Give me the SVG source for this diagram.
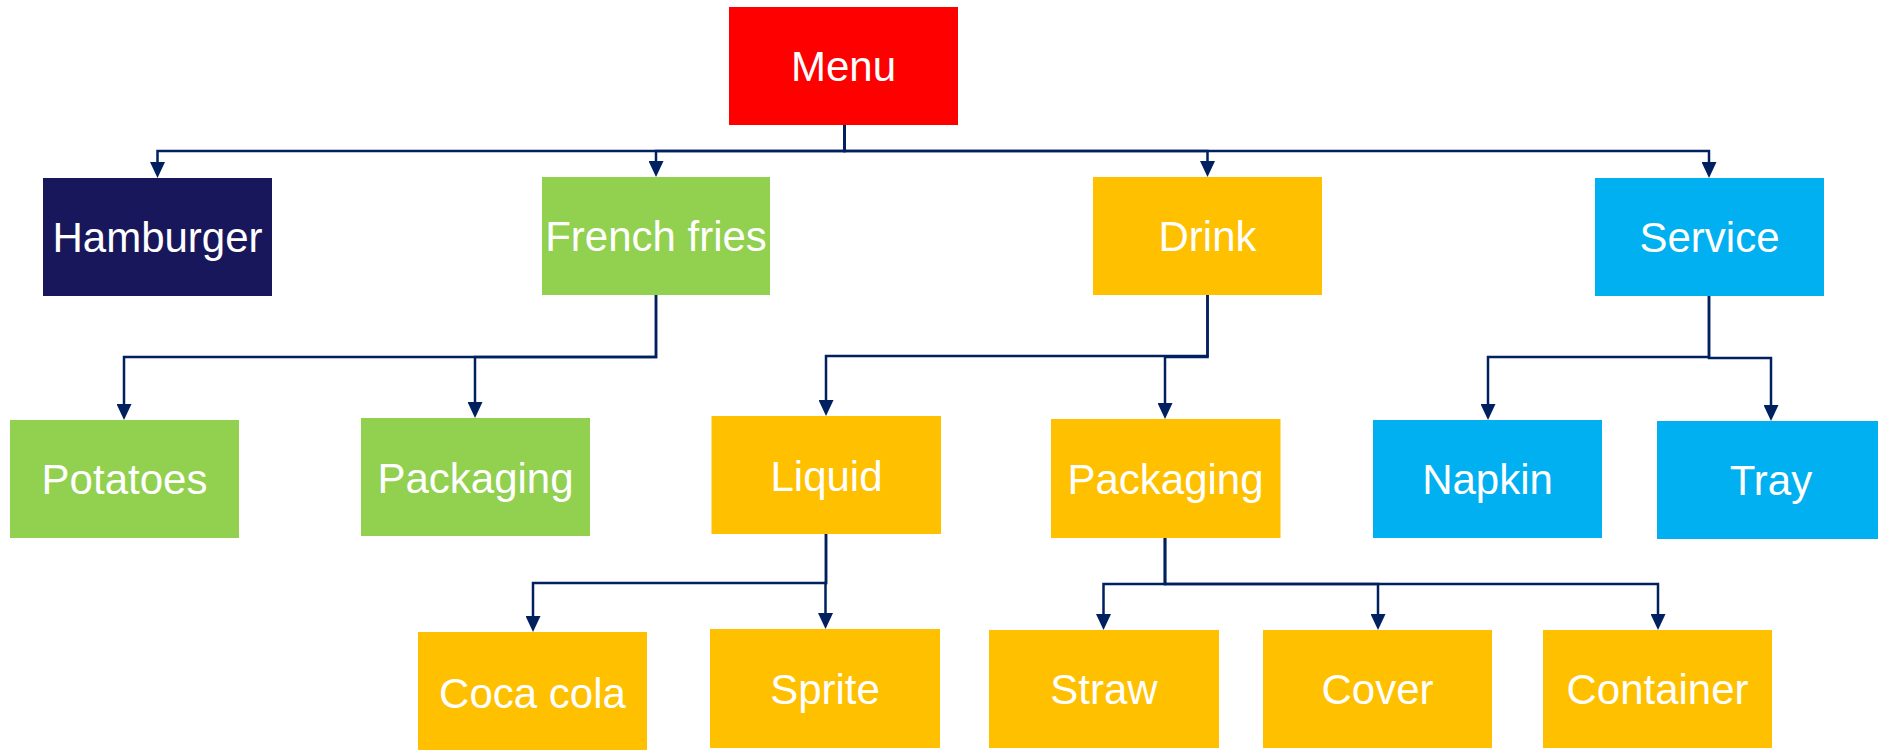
<svg xmlns="http://www.w3.org/2000/svg" width="1878" height="750" viewBox="0 0 1878 750">
  <style>
    .box text { font-family: "Liberation Sans", Arial, sans-serif; font-size: 42px; fill: #ffffff; text-anchor: middle; }
    .red { fill: #FF0000; }
    .navy { fill: #19175C; }
    .green { fill: #92D050; }
    .amber { fill: #FFC000; }
    .cyan { fill: #00B0F0; }
    .link { fill: none; stroke: #002060; stroke-width: 2.5; marker-end: url(#arrow); }
  </style>
  <defs>
    <marker id="arrow" markerUnits="userSpaceOnUse" viewBox="0 0 16 15" markerWidth="16" markerHeight="15" refX="2" refY="7.5" orient="auto">
      <path d="M0 0 L16 7.5 L0 15 Z" fill="#002060"/>
    </marker>
  </defs>

  <rect width="1878" height="750" fill="#ffffff"/>

  <!-- connectors -->
  <g id="connectors">
    <path class="link" d="M844.5 125 V151 H157.5 V164"/>
    <path class="link" d="M844.5 125 V151 H656 V163"/>
    <path class="link" d="M844.5 125 V151 H1207.5 V163"/>
    <path class="link" d="M844.5 125 V151 H1709 V164"/>
    <path class="link" d="M656 295 V357 H124 V406"/>
    <path class="link" d="M656 295 V357 H475 V404"/>
    <path class="link" d="M1207.5 295 V356 H826 V402"/>
    <path class="link" d="M1207.5 295 V357 H1165 V405"/>
    <path class="link" d="M826 534 V583 H533 V618"/>
    <path class="link" d="M826 534 V583 H825.5 V615"/>
    <path class="link" d="M1165 538 V584 H1103.5 V616"/>
    <path class="link" d="M1165 538 V584 H1378 V616"/>
    <path class="link" d="M1165 538 V584 H1658 V616"/>
    <path class="link" d="M1709 296 V357 H1488 V406"/>
    <path class="link" d="M1709 296 V358 H1771 V407"/>
  </g>

  <!-- level 0 -->
  <g id="menu" class="box"><rect class="red" x="729" y="7" width="229" height="118"/><text x="843.5" y="81">Menu</text></g>

  <!-- level 1 -->
  <g id="hamburger" class="box"><rect class="navy" x="43" y="178" width="229" height="118"/><text x="157.5" y="252">Hamburger</text></g>
  <g id="french-fries" class="box"><rect class="green" x="542" y="177" width="228" height="118"/><text x="656" y="251">French fries</text></g>
  <g id="drink" class="box"><rect class="amber" x="1093" y="177" width="229" height="118"/><text x="1207.5" y="251">Drink</text></g>
  <g id="service" class="box"><rect class="cyan" x="1595" y="178" width="229" height="118"/><text x="1709.5" y="252">Service</text></g>

  <!-- level 2 -->
  <g id="potatoes" class="box"><rect class="green" x="10" y="420" width="229" height="118"/><text x="124.5" y="494">Potatoes</text></g>
  <g id="fries-packaging" class="box"><rect class="green" x="361" y="418" width="229" height="118"/><text x="475.5" y="493">Packaging</text></g>
  <g id="liquid" class="box"><rect class="amber" x="711.5" y="416" width="229.5" height="118"/><text x="826.5" y="491">Liquid</text></g>
  <g id="drink-packaging" class="box"><rect class="amber" x="1051" y="419" width="229.5" height="119"/><text x="1165.5" y="494">Packaging</text></g>
  <g id="napkin" class="box"><rect class="cyan" x="1373" y="420" width="229" height="118"/><text x="1487.5" y="494">Napkin</text></g>
  <g id="tray" class="box"><rect class="cyan" x="1657" y="421" width="221" height="118"/><text x="1771" y="495">Tray</text></g>

  <!-- level 3 -->
  <g id="coca-cola" class="box"><rect class="amber" x="418" y="632" width="229" height="118"/><text x="532.5" y="708">Coca cola</text></g>
  <g id="sprite" class="box"><rect class="amber" x="710" y="629" width="230" height="119"/><text x="825" y="704">Sprite</text></g>
  <g id="straw" class="box"><rect class="amber" x="989" y="630" width="230" height="118"/><text x="1104" y="704">Straw</text></g>
  <g id="cover" class="box"><rect class="amber" x="1263" y="630" width="229" height="118"/><text x="1377.5" y="704">Cover</text></g>
  <g id="container" class="box"><rect class="amber" x="1543" y="630" width="229" height="118"/><text x="1657.5" y="704">Container</text></g>
</svg>
